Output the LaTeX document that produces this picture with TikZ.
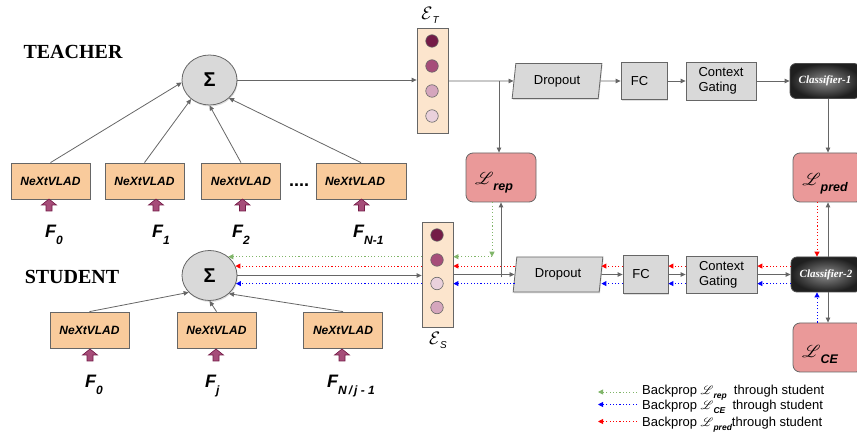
\RequirePackage{fix-cm}
\documentclass[tikz,border=0pt]{standalone}
\usepackage{fontspec}
\setmainfont{Liberation Serif}
\setsansfont{Liberation Sans}
\usepackage{mathrsfs}
\usetikzlibrary{shapes.geometric,arrows.meta,shadows,calc}

\definecolor{lineg}{HTML}{666666}
\definecolor{peach}{HTML}{F9CB9C}
\definecolor{peachl}{HTML}{FCE5CD}
\definecolor{boxg}{HTML}{D9D9D9}
\definecolor{lossr}{HTML}{EA9999}
\definecolor{pur1}{HTML}{741B47}
\definecolor{pur2}{HTML}{A64D79}
\definecolor{pur3}{HTML}{D5A6BD}
\definecolor{pur4}{HTML}{EAD1DC}
\definecolor{bpg}{HTML}{6AA84F}
\definecolor{bpr}{HTML}{FF0000}
\definecolor{bpb}{HTML}{0000FF}

\newcommand\lossL[1]{{\fontsize{19}{19}\selectfont$\boldsymbol{\mathscr{L}}$}\raisebox{-6pt}{\sffamily\bfseries\itshape\fontsize{12.5}{12.5}\selectfont #1}}
\newcommand\lgL[1]{{\fontsize{13}{13}\selectfont$\boldsymbol{\mathscr{L}}$}\raisebox{-3.5pt}{\bfseries\itshape\fontsize{8.5}{8.5}\selectfont #1}}
\newcommand\fsub[1]{\raisebox{-6.5pt}{\fontsize{12}{12}\selectfont #1}}
\newcommand\esub[1]{\raisebox{-4pt}{\sffamily\itshape\fontsize{10}{10}\selectfont #1}}
\newcommand\offs[3]{\hspace*{#1}\raisebox{#2}{\vphantom{#3}}#3}

\usepackage{amsmath,bm}

\tikzset{
  conn/.style={draw=lineg, line width=0.8pt, -{Triangle[length=5pt,width=4.5pt]}},
  bpbase/.style={line width=0.9pt, dash pattern=on 1.1pt off 2.2pt, -{Triangle[length=5pt,width=5pt]}},
  bpG/.style={bpbase, color=bpg!85},
  bpR/.style={bpbase, color=bpr},
  bpB/.style={bpbase, color=bpb},
  shad/.style={drop shadow={opacity=0.25, shadow xshift=0.8pt, shadow yshift=-1.5pt}},
  rolelbl/.style={font=\rmfamily\bfseries\fontsize{20}{20}\selectfont, inner sep=0},
  sig/.style={ellipse, draw=lineg, line width=0.8pt, fill=boxg, minimum width=55pt, minimum height=50pt, inner sep=0, font=\sffamily\bfseries\fontsize{20}{20}\selectfont, shad},
  nvl/.style={draw=lineg, line width=0.8pt, fill=peach, minimum width=79pt, minimum height=36pt, inner sep=0, font=\sffamily\bfseries\itshape\fontsize{12}{12}\selectfont},
  flbl/.style={font=\sffamily\bfseries\itshape\fontsize{18}{18}\selectfont, inner sep=0, anchor=base west},
  ebox/.style={draw=lineg, line width=0.8pt, fill=peachl, minimum width=31pt, minimum height=105pt, inner sep=0},
  ecirc/.style={circle, draw=lineg, line width=0.6pt, minimum size=12.5pt, inner sep=0},
  elbl/.style={font=\fontsize{18}{18}\selectfont, inner sep=0},
  gbox/.style={draw=lineg, line width=0.8pt, fill=boxg, inner sep=0, font=\sffamily\fontsize{13}{15}\selectfont, shad},
  dropbox/.style={gbox, trapezium, trapezium left angle=80, trapezium right angle=100, trapezium stretches=true, minimum width=90pt, minimum height=35pt},
  loss/.style={draw=lineg, line width=0.8pt, fill=lossr, rounded corners=7pt, minimum width=70pt, minimum height=49pt, inner sep=0},
  clf/.style={draw=black!70, line width=0.8pt, rounded corners=6pt, inner color=black!45, outer color=black!88, minimum width=70pt, minimum height=35pt, inner sep=0, text=white, font=\rmfamily\bfseries\itshape\fontsize{11}{11}\selectfont},
  legtxt/.style={font=\sffamily\fontsize{13}{13}\selectfont, inner sep=0, anchor=base west},
  uparr/.pic={\draw[draw=pur1, fill=pur2, line width=0.6pt] (-3,12) -- (-3,6) -- (-7.5,6) -- (0,0) -- (7.5,6) -- (3,6) -- (3,12) -- cycle;}
}

\begin{document}
\begin{tikzpicture}[x=1pt,y=-1pt]
\useasboundingbox (0,0) rectangle (857,435);

% role labels
\node (teacher) [rolelbl] at (73,52) {TEACHER};
\node (student) [rolelbl] at (72,277) {STUDENT};

% sums
\node (sigT) [sig] at (209.5,80) {Σ};
\node (sigS) [sig] at (209.5,275.5) {Σ};

% teacher NeXtVLADs
\node (n1) [nvl] at (50.5,181) {NeXtVLAD};
\node (n2) [nvl] at (144.5,181) {NeXtVLAD};
\node (n3) [nvl] at (241,181) {NeXtVLAD};
\node (n4) [nvl, minimum width=90pt] at (361,181) {\hspace*{-12pt}NeXtVLAD};
\node (dots) [font=\sffamily\bfseries\fontsize{18}{18}\selectfont, inner sep=0, anchor=base] at (299,187) {....};

% student NeXtVLADs
\node (s1) [nvl] at (89.5,330) {NeXtVLAD};
\node (s2) [nvl] at (216.5,330) {NeXtVLAD};
\node (s3) [nvl] at (343,330) {NeXtVLAD};

% input arrows
\pic at (49,199) {uparr};
\pic at (156,199) {uparr};
\pic at (242.5,199) {uparr};
\pic at (361.5,199) {uparr};
\pic at (90,349) {uparr};
\pic at (216,349) {uparr};
\pic at (342,349) {uparr};

% F labels
\node (ft0) [flbl] at (45,238) {F\fsub{0}};
\node (ft1) [flbl] at (152,238) {F\fsub{1}};
\node (ft2) [flbl] at (232,238) {F\fsub{2}};
\node (ftn) [flbl] at (353,238) {F\fsub{N-1}};
\node (fs0) [flbl] at (85,388) {F\fsub{0}};
\node (fsj) [flbl] at (205,388) {F\fsub{j}};
\node (fsn) [flbl] at (327,388) {F\fsub{N\,/\,j - 1}};

% teacher embedding
\node (ET) [ebox] at (432.5,81) {};
\node (ET1) [ecirc, fill=pur1] at (432,41) {};
\node (ET2) [ecirc, fill=pur2] at (432,66) {};
\node (ET3) [ecirc, fill=pur3] at (432,91) {};
\node (ET4) [ecirc, fill=pur4] at (432,116) {};
\node (ETl) [elbl] at (430,15) {$\mathcal{E}$\esub{T}};

% student embedding
\node (ES) [ebox] at (437.5,274.5) {};
\node (ES1) [ecirc, fill=pur1] at (437,235) {};
\node (ES2) [ecirc, fill=pur2] at (437,260) {};
\node (ES3) [ecirc, fill=pur4] at (437,283.5) {};
\node (ES4) [ecirc, fill=pur3] at (437,307.5) {};
\node (ESl) [elbl] at (438,340) {$\mathcal{E}$\esub{S}};

% teacher head
\node (dropT) [dropbox] at (557,81) {Dropout};
\node (fcT) [gbox, minimum width=46pt, minimum height=37pt] at (644,81) {\hspace*{-9pt}FC};
\node (cgT) [gbox, minimum width=70pt, minimum height=38pt, align=left] at (721,81) {Context\\Gating};
\node (c1) [clf] at (825,81) {Classifier-1};

% student head
\node (dropS) [dropbox] at (558,274.5) {Dropout};
\node (fcS) [gbox, minimum width=45pt, minimum height=38pt] at (645.5,274.5) {\hspace*{-9pt}FC};
\node (cgS) [gbox, minimum width=71pt, minimum height=37pt, align=left] at (721.5,274.5) {Context\\Gating};
\node (c2) [clf] at (826,274.5) {Classifier-2};

% losses
\node (lrep) [loss] at (501,177.5) {\offs{-14pt}{10pt}{\lossL{rep}}};
\node (lpred) [loss] at (828,177.5) {\offs{-6pt}{12pt}{\lossL{pred}}};
\node (lce) [loss] at (828,347.5) {\offs{-16pt}{14pt}{\lossL{CE}}};

% teacher connectors
\draw[conn] (n1.north) -- (sigT.185);
\draw[conn] (n2.north) -- (sigT.226);
\draw[conn] (n3.north) -- (sigT.south);
\draw[conn] (n4.north) -- (sigT.-43);
\draw[conn] (sigT.east) -- (sigT.east -| ET.west);
\draw[conn] (ET.east) -- (dropT.west);
\draw[conn] (dropT.east) -- (fcT.west);
\draw[conn] (fcT.east) -- (cgT.west);
\draw[conn] (cgT.east) -- (c1.west);
\coordinate (brT) at ($(ET.east -| lrep.north)+(-2,0)$);
\draw[conn] (brT) -- (brT |- lrep.north);
\draw[conn] (c1.south -| lpred.north) -- (lpred.north);

% student connectors
\draw[conn] (s1.north) -- (sigS.219);
\draw[conn] (s2.north) -- (sigS.south);
\draw[conn] (s3.north) -- (sigS.-43);
\draw[conn] (sigS.east) -- (sigS.east -| ES.west);
\draw[conn] (ES.east) -- (dropS.west);
\draw[conn] (dropS.east) -- (fcS.west);
\draw[conn] (fcS.east) -- (cgS.west);
\draw[conn] (cgS.east) -- (c2.west);
\coordinate (brS) at (501,277.5);
\draw[conn] (brS) -- (brS |- lrep.south);
\draw[conn] (c2.north -| lpred.south) -- (lpred.south);
\draw[conn] (c2.south -| lce.north) -- (lce.north);

% backprop: representation loss (green)
\coordinate (gA) at ($(lrep.south)+(-9,0)$);
\coordinate (gB) at (gA |- sigS.45);
\draw[bpG] (gA) -- (gB);
\draw[bpG] (gB) -- (gB -| ES.east);
\draw[bpG] (ES.west |- sigS.45) -- (sigS.45);

% backprop: prediction loss (red)
\coordinate (rA) at ($(lpred.south)+(-11,0)$);
\draw[bpR] (rA) -- (rA |- c2.north);
\draw[bpR] (c2.west |- sigS.20) -- (cgS.east |- sigS.20);
\draw[bpR] (cgS.west |- sigS.20) -- (fcS.east |- sigS.20);
\draw[bpR] (fcS.west |- sigS.20) -- (dropS.east |- sigS.20);
\draw[bpR] (dropS.west |- sigS.20) -- (ES.east |- sigS.20);
\draw[bpR] (ES.west |- sigS.20) -- (sigS.20);

% backprop: CE loss (blue)
\coordinate (bA) at ($(lce.north)+(-11,0)$);
\draw[bpB] (bA) -- (bA |- c2.south);
\draw[bpB] (c2.west |- sigS.-17) -- (cgS.east |- sigS.-17);
\draw[bpB] (cgS.west |- sigS.-17) -- (fcS.east |- sigS.-17);
\draw[bpB] (fcS.west |- sigS.-17) -- (dropS.east |- sigS.-17);
\draw[bpB] (dropS.west |- sigS.-17) -- (ES.east |- sigS.-17);
\draw[bpB] (ES.west |- sigS.-17) -- (sigS.-17);

% legend
\node (lg1) [legtxt] at (642,395) {Backprop \lgL{rep}\ \ through student};
\node (lg2) [legtxt] at (642,410) {Backprop \lgL{CE}\ \ through student};
\node (lg3) [legtxt] at (642,427) {Backprop \lgL{pred}through student};
\coordinate (lg1s) at (637,392);
\coordinate (lg1e) at (598,392);
\coordinate (lg2s) at (637,404.5);
\coordinate (lg2e) at (598,404.5);
\coordinate (lg3s) at (637,421.5);
\coordinate (lg3e) at (598,421.5);
\draw[bpG] (lg1s) -- (lg1e);
\draw[bpB] (lg2s) -- (lg2e);
\draw[bpR] (lg3s) -- (lg3e);
\end{tikzpicture}
\end{document}
